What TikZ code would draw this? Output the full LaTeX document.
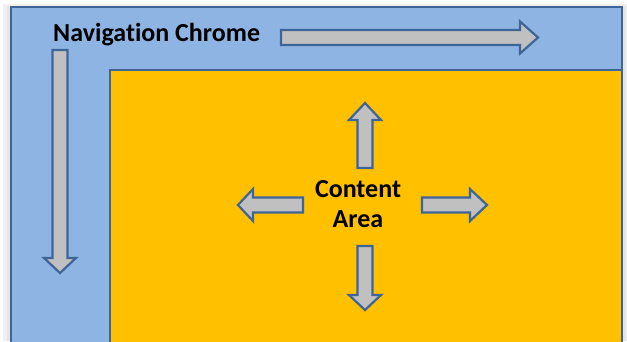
\documentclass[tikz,border=0pt]{standalone}
\usepackage{fontspec}
\setmainfont{Carlito}[Ligatures={NoCommon}]
\definecolor{chromeblue}{HTML}{8EB4E3}
\definecolor{contentgold}{HTML}{FFC000}
\definecolor{edgeblue}{HTML}{3E6597}
\definecolor{arrowgrey}{HTML}{C0C0C0}
\tikzset{
  frame/.style={draw=edgeblue, line width=2.2pt},
  arrowbox/.style={draw=edgeblue, fill=arrowgrey, line width=2.2pt, line join=miter},
  caption/.style={font=\bfseries\fontsize{26}{30}\selectfont, text=black, inner sep=0pt, align=center}
}
% block arrow: start point, angle, shaft length, head length
\newcommand{\fatarrow}[4]{%
  \draw[arrowbox, shift={#1}, rotate=#2]
    (0,-7.5) -- (#3,-7.5) -- (#3,-16) -- (#3+#4,0) -- (#3,16) -- (#3,7.5) -- (0,7.5) -- cycle;}
\begin{document}
\begin{tikzpicture}[x=1pt, y=1pt]
  \useasboundingbox (0,0) rectangle (627,341);
  % soft shadow
  \fill[black!6] (3,0) rectangle (627,337);
  \fill[black!10] (7,0) rectangle (626,335);
  % chrome and content
  \filldraw[frame, fill=chromeblue] (11,-5) rectangle (622,334);
  \filldraw[frame, fill=contentgold] (110,-5) rectangle (622,271);

  % labels
  \node[caption, anchor=west] (navlabel) at (53,306) {Navigation Chrome};
  \node[caption] (contentlabel) at (358,137) {Content\\Area};

  % chrome arrows
  \fatarrow{(281,303.5)}{0}{239}{18}
  \fatarrow{(60,291)}{-90}{208}{15}

  % content arrows
  \fatarrow{(365,173)}{90}{48}{17}
  \fatarrow{(365,95)}{-90}{49}{15}
  \fatarrow{(422,136)}{0}{48}{17}
  \fatarrow{(303,136)}{180}{50}{15}
\end{tikzpicture}
\end{document}
